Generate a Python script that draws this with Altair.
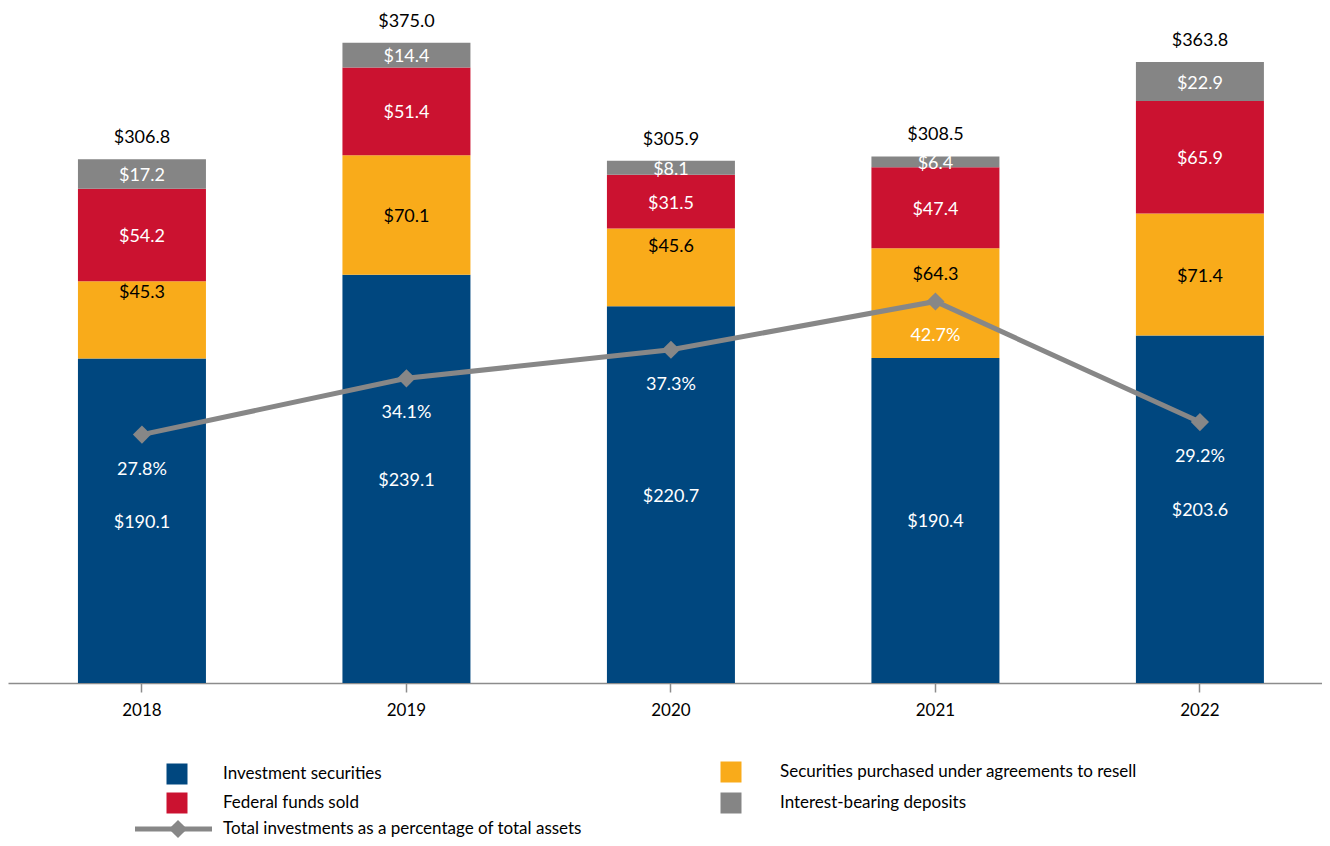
import altair as alt
import pandas as pd

# ---------------- data ----------------
years = ["2018", "2019", "2020", "2021", "2022"]
investment_securities = [190.1, 239.1, 220.7, 190.4, 203.6]
securities_resell = [45.3, 70.1, 45.6, 64.3, 71.4]
federal_funds = [54.2, 51.4, 31.5, 47.4, 65.9]
interest_deposits = [17.2, 14.4, 8.1, 6.4, 22.9]
pct_of_assets = [27.8, 34.1, 37.3, 42.7, 29.2]

series_names = [
    "Investment securities",
    "Securities purchased under agreements to resell",
    "Federal funds sold",
    "Interest-bearing deposits",
]
line_name = "Total investments as a percentage of total assets"

# ---------------- style ----------------
FONT = "Lato"
colors = ["#00477F", "#F9AB1A", "#CB1230", "#858585"]
text_colors = ["white", "black", "white", "white"]
line_color = "#878787"
# where inside the resell segment its label sits (fraction of segment height, from the bottom)
resell_label_anchor = [0.87, 0.5, 0.79, 0.77, 0.5]

W, H = 1314, 663
BAR_MAX = 388.4
PCT_MAX = 74.2

series_values = [investment_securities, securities_resell, federal_funds, interest_deposits]
rows = []
for i, y in enumerate(years):
    cum = 0.0
    for s, name in enumerate(series_names):
        v = series_values[s][i]
        frac = resell_label_anchor[i] if s == 1 else 0.5
        rows.append(dict(year=y, series=name, order=s, lo=cum, hi=cum + v,
                         mid=cum + v * frac, label=f"${v:.1f}", tcolor=text_colors[s]))
        cum += v
seg = pd.DataFrame(rows)
totals = seg.groupby("year", as_index=False)["hi"].max()
totals["label"] = totals["hi"].map(lambda t: f"${t:.1f}")
line_df = pd.DataFrame(dict(year=years, pct=pct_of_assets,
                            label=[f"{p:.1f}%" for p in pct_of_assets]))

xscale = alt.Scale(paddingInner=0.1, paddingOuter=0.034, align=0.83)
xenc = alt.X("year:N", title=None, sort=years, scale=xscale,
             axis=alt.Axis(labelAngle=0, labelFont=FONT, labelFontSize=17, labelColor="#000",
                           domainColor="#8c8c8c", domainWidth=1.5, tickColor="#8c8c8c",
                           tickWidth=1.5, tickSize=9, labelPadding=10, grid=False))
bar_scale = alt.Scale(domain=[0, BAR_MAX], nice=False, zero=True)
pct_scale = alt.Scale(domain=[0, PCT_MAX], nice=False, zero=True)

bars = alt.Chart(seg).mark_bar(size=128).encode(
    x=xenc,
    y=alt.Y("lo:Q", scale=bar_scale, axis=None),
    y2="hi:Q",
    color=alt.Color("series:N", scale=alt.Scale(domain=series_names, range=colors), legend=None),
    order=alt.Order("order:Q"),
)
seg_labels = alt.Chart(seg).mark_text(font=FONT, fontSize=18, baseline="middle", dy=2).encode(
    x=xenc,
    y=alt.Y("mid:Q", scale=bar_scale, axis=None),
    text="label:N",
    color=alt.Color("tcolor:N", scale=None),
)
total_labels = alt.Chart(totals).mark_text(font=FONT, fontSize=18, baseline="middle",
                                           dy=-21, color="#000").encode(
    x=xenc,
    y=alt.Y("hi:Q", scale=bar_scale, axis=None),
    text="label:N",
)
line = alt.Chart(line_df).mark_line(color=line_color, strokeWidth=5).encode(
    x=xenc, y=alt.Y("pct:Q", scale=pct_scale, axis=None))
points = alt.Chart(line_df).mark_point(shape="diamond", filled=True, size=330,
                                       color=line_color, opacity=1).encode(
    x=xenc, y=alt.Y("pct:Q", scale=pct_scale, axis=None))
pct_labels = alt.Chart(line_df).mark_text(font=FONT, fontSize=18, baseline="middle",
                                          dy=35, color="white").encode(
    x=xenc, y=alt.Y("pct:Q", scale=pct_scale, axis=None), text="label:N")

main = alt.layer(bars, seg_labels, total_labels, line, points, pct_labels).resolve_scale(
    y="independent").properties(width=W, height=H)

# ---------------- legend (drawn as its own small panel) ----------------
LH = 120
leg_sq = pd.DataFrame(dict(
    name=[series_names[0], series_names[1], series_names[2], series_names[3]],
    color=[colors[0], colors[1], colors[2], colors[3]],
    sx=[169, 723, 169, 723],
    tx=[215, 772, 215, 772],
    ly=[56, 54, 85, 85],
))
leg_line = pd.DataFrame(dict(name=[line_name], x1=[127], x2=[204], sx=[170], tx=[215], ly=[111]))

lx = alt.Scale(domain=[0, W], nice=False, zero=False)
ly = alt.Scale(domain=[LH, 0], nice=False, zero=False)

sq = alt.Chart(leg_sq).mark_square(size=441, opacity=1).encode(
    x=alt.X("sx:Q", scale=lx, axis=None), y=alt.Y("ly:Q", scale=ly, axis=None),
    color=alt.Color("color:N", scale=None))
sq_txt = alt.Chart(leg_sq).mark_text(font=FONT, fontSize=17, align="left", baseline="middle",
                                     color="#000").encode(
    x=alt.X("tx:Q", scale=lx, axis=None), y=alt.Y("ly:Q", scale=ly, axis=None), text="name:N")
ln = alt.Chart(leg_line).mark_rule(color=line_color, strokeWidth=5).encode(
    x=alt.X("x1:Q", scale=lx, axis=None), x2="x2:Q", y=alt.Y("ly:Q", scale=ly, axis=None))
ln_pt = alt.Chart(leg_line).mark_point(shape="diamond", filled=True, size=330, color=line_color,
                                       opacity=1).encode(
    x=alt.X("sx:Q", scale=lx, axis=None), y=alt.Y("ly:Q", scale=ly, axis=None))
ln_txt = alt.Chart(leg_line).mark_text(font=FONT, fontSize=17, align="left", baseline="middle",
                                       color="#000").encode(
    x=alt.X("tx:Q", scale=lx, axis=None), y=alt.Y("ly:Q", scale=ly, axis=None), text="name:N")

legend = alt.layer(sq, sq_txt, ln, ln_pt, ln_txt).properties(width=W, height=LH)

chart = alt.vconcat(main, legend, spacing=0).properties(
    padding={"left": 0, "top": 4, "right": 0, "bottom": 0},
    background="white",
).configure_view(strokeWidth=0).configure_concat(spacing=0)

chart.save("out.html", embed_options={"renderer": "svg", "actions": False})
